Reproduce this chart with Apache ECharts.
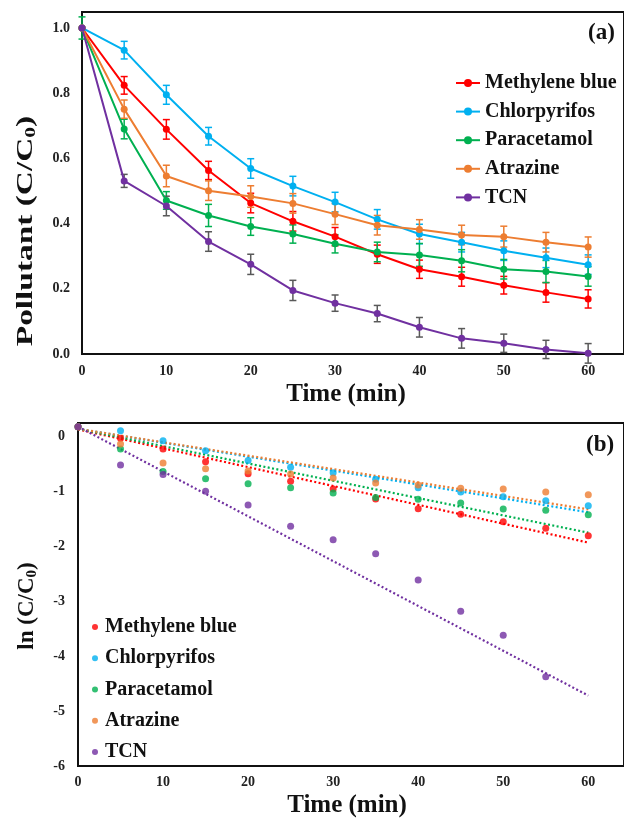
<!DOCTYPE html>
<html><head><meta charset="utf-8">
<script src="https://cdn.jsdelivr.net/npm/echarts@6/dist/echarts.min.js"></script>
<style>html,body{margin:0;padding:0;background:#fff}#c{width:624px;height:818px}</style>
</head><body><div id="c"></div>
<script>
const names = ['Methylene blue','Chlorpyrifos','Paracetamol','Atrazine','TCN'];
const colors = ['#FF0000','#00B0F0','#00B050','#ED7D31','#7030A0'];
const errColors = ['#FF0000','#00B0F0','#00B050','#ED7D31','#595959'];
const times = [0,5,10,15,20,25,30,35,40,45,50,55,60];
const xTicks = [0,10,20,30,40,50,60];

// Panel (a): C/C0
const mb  = [1.0,0.824,0.689,0.563,0.463,0.407,0.360,0.306,0.260,0.237,0.211,0.189,0.169];
const cp  = [1.0,0.932,0.795,0.668,0.569,0.515,0.466,0.413,0.368,0.343,0.317,0.295,0.274];
const pc  = [1.0,0.690,0.471,0.425,0.391,0.368,0.338,0.313,0.304,0.286,0.260,0.253,0.238];
const at  = [1.0,0.751,0.546,0.501,0.483,0.462,0.429,0.395,0.382,0.365,0.360,0.343,0.328];
const tcn = [1.0,0.531,0.454,0.345,0.275,0.195,0.156,0.124,0.082,0.048,0.033,0.014,0.002];
// error bar half-widths
const errMb  = [0,0.027,0.030,0.028,0.030,0.030,0.028,0.028,0.028,0.029,0.027,0.030,0.028];
const errCp  = [0,0.027,0.029,0.027,0.030,0.030,0.030,0.030,0.030,0.030,0.030,0.030,0.030];
const errPc  = [0.034,0.030,0.027,0.034,0.027,0.028,0.028,0.030,0.035,0.034,0.030,0.034,0.030];
const errAt  = [0,0.028,0.033,0.030,0.033,0.030,0.032,0.030,0.030,0.030,0.032,0.030,0.031];
const errTcn = [0,0.020,0.030,0.030,0.031,0.031,0.025,0.025,0.030,0.030,0.028,0.028,0.030];

// Panel (b): ln(C/C0)
const lnMb  = [0.17,-0.04,-0.236,-0.467,-0.685,-0.824,-0.964,-1.145,-1.321,-1.424,-1.558,-1.679,-1.812];
const lnCp  = [0.17,0.097,-0.085,-0.267,-0.448,-0.57,-0.667,-0.788,-0.939,-1.018,-1.103,-1.176,-1.267];
const lnPc  = [0.17,-0.236,-0.648,-0.776,-0.867,-0.94,-1.036,-1.12,-1.152,-1.218,-1.327,-1.352,-1.43];
const lnAt  = [0.17,-0.145,-0.49,-0.594,-0.636,-0.69,-0.764,-0.855,-0.891,-0.952,-0.964,-1.018,-1.067];
const lnTcn = [0.17,-0.527,-0.70,-1.006,-1.255,-1.642,-1.885,-2.139,-2.618,-3.188,-3.624,-4.376,null];
// linear fits (intercept, slope)
const fitIntercept = [0.12,0.13,0.13,0.13,0.17];
const fitSlope = [-0.0343,-0.02530,-0.03147,-0.02440,-0.0815];
const fitRange = [0,60];

const FONT = 'Liberation Serif';
const cData = [mb,cp,pc,at,tcn];
const eData = [errMb,errCp,errPc,errAt,errTcn];
const lnData = [lnMb,lnCp,lnPc,lnAt,lnTcn];

const series = [];
names.forEach((n,i)=>{
  series.push({
    type:'custom', name:n+' err', xAxisIndex:0, yAxisIndex:0, silent:true, z:2,
    data: times.map((t,k)=>[t,cData[i][k],eData[i][k]]),
    renderItem:(params,api)=>{
      const x=api.value(0), y=api.value(1), e=api.value(2);
      if(!e) return null;
      const a=api.coord([x,y+e]), b=api.coord([x,y-e]);
      const hw=3.5, st={stroke:errColors[i],lineWidth:1.5};
      return {type:'group',children:[
        {type:'line',shape:{x1:a[0],y1:a[1],x2:b[0],y2:b[1]},style:st},
        {type:'line',shape:{x1:a[0]-hw,y1:a[1],x2:a[0]+hw,y2:a[1]},style:st},
        {type:'line',shape:{x1:b[0]-hw,y1:b[1],x2:b[0]+hw,y2:b[1]},style:st}
      ]};
    }
  });
});
names.forEach((n,i)=>{
  series.push({
    type:'line', name:n, xAxisIndex:0, yAxisIndex:0, z:3,
    data: times.map((t,k)=>[t,cData[i][k]]),
    symbol:'circle', symbolSize:7, showSymbol:true,
    lineStyle:{color:colors[i],width:2}, itemStyle:{color:colors[i]},
    animation:false
  });
});
names.forEach((n,i)=>{
  series.push({
    type:'line', name:'fit '+n, xAxisIndex:1, yAxisIndex:1, z:2,
    data: fitRange.map(t=>[t, fitIntercept[i]+fitSlope[i]*t]),
    symbol:'none', lineStyle:{color:colors[i],width:2.2,type:[2,2.4]},
    animation:false, silent:true
  });
});
names.forEach((n,i)=>{
  series.push({
    type:'scatter', name:'b:'+n, xAxisIndex:1, yAxisIndex:1, z:3,
    data: times.map((t,k)=>[t,lnData[i][k]]).filter(d=>d[1]!==null),
    symbol:'circle', symbolSize:7, itemStyle:{color:colors[i]}, animation:false
  });
});

const axisLbl = {fontFamily:FONT,fontWeight:'bold',fontSize:14,color:'#222'};
const legText = {fontFamily:FONT,fontWeight:'bold',fontSize:20,lineHeight:20,color:'#111'};
const chart = echarts.init(document.getElementById('c'),null,{renderer:'canvas'});
chart.setOption({
  animation:false,
  grid:[
    {left:82,top:12,right:-2,bottom:818-354,show:true,borderColor:'#111',borderWidth:2},
    {left:78,top:423,right:-2,bottom:818-766,show:true,borderColor:'#111',borderWidth:2}
  ],
  xAxis:[
    {type:'value',gridIndex:0,min:0,max:64.25,interval:10,splitLine:{show:false},
     axisLine:{show:false,onZero:false},axisTick:{show:false},
     axisLabel:Object.assign({margin:10,showMaxLabel:false,formatter:v=>xTicks.includes(v)?String(v):''},axisLbl)},
    {type:'value',gridIndex:1,min:0,max:64.2,interval:10,splitLine:{show:false},
     axisLine:{show:false,onZero:false},axisTick:{show:false},
     axisLabel:Object.assign({margin:9,showMaxLabel:false,formatter:v=>xTicks.includes(v)?String(v):''},axisLbl)}
  ],
  yAxis:[
    {type:'value',gridIndex:0,min:0,max:1.049,interval:0.2,splitLine:{show:false},
     axisLine:{show:false,onZero:false},axisTick:{show:false},
     axisLabel:Object.assign({margin:12,showMaxLabel:false,formatter:v=>v.toFixed(1)},axisLbl)},
    {type:'value',gridIndex:1,min:-6,max:0.236,interval:1,splitLine:{show:false},
     axisLine:{show:false,onZero:false},axisTick:{show:false},
     axisLabel:Object.assign({margin:13,showMaxLabel:false,formatter:v=>String(v)},axisLbl)}
  ],
  legend:[
    {orient:'vertical',left:450,top:68,itemWidth:24,itemHeight:10,itemGap:8.6,
     data:names,textStyle:legText,selectedMode:false},
    {orient:'vertical',left:87,top:612,itemWidth:10,itemHeight:6,itemGap:11.25,
     data:names.map(n=>({name:'b:'+n,icon:'circle'})),formatter:s=>s.slice(2),
     textStyle:legText,selectedMode:false}
  ],
  graphic:[
    {type:'text',left:588,top:22,style:{text:'(a)',font:'bold 23px "Liberation Serif"',fill:'#111'}},
    {type:'text',left:586,top:434,style:{text:'(b)',font:'bold 23px "Liberation Serif"',fill:'#111'}},
    {type:'text',x:346,y:395,style:{text:'Time (min)',font:'bold 25px "Liberation Serif"',fill:'#111',align:'center',verticalAlign:'middle'}},
    {type:'text',x:347,y:806,style:{text:'Time (min)',font:'bold 25px "Liberation Serif"',fill:'#111',align:'center',verticalAlign:'middle'}},
    {type:'text',x:26,y:231,rotation:Math.PI/2,scaleX:1.45,style:{
      text:'{a|Pollutant (C/C}{s|0}{a|)}',align:'center',verticalAlign:'middle',
      rich:{a:{fontFamily:FONT,fontWeight:'bold',fontSize:23,fill:'#111'},
            s:{fontFamily:FONT,fontWeight:'bold',fontSize:15,fill:'#111',padding:[10,0,0,0]}}}},
    {type:'text',x:27,y:606,rotation:Math.PI/2,style:{
      text:'{a|ln (C/C}{s|0}{a|)}',align:'center',verticalAlign:'middle',
      rich:{a:{fontFamily:FONT,fontWeight:'bold',fontSize:23,fill:'#111'},
            s:{fontFamily:FONT,fontWeight:'bold',fontSize:15,fill:'#111',padding:[10,0,0,0]}}}}
  ],
  series:series
});
</script></body></html>
